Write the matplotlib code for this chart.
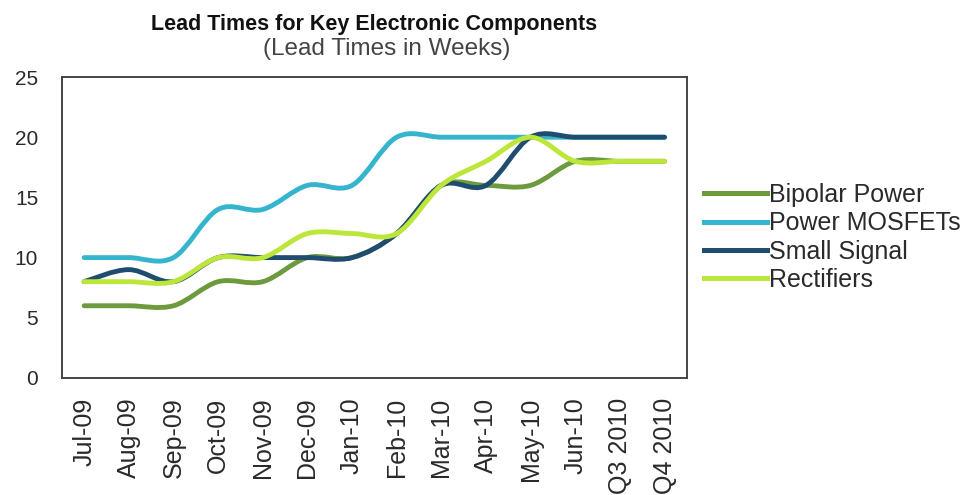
import matplotlib
matplotlib.use("Agg")
import matplotlib.pyplot as plt
import numpy as np
from matplotlib.path import Path
from matplotlib.patches import PathPatch
from matplotlib.lines import Line2D

categories = ["Jul-09", "Aug-09", "Sep-09", "Oct-09", "Nov-09", "Dec-09", "Jan-10",
              "Feb-10", "Mar-10", "Apr-10", "May-10", "Jun-10", "Q3 2010", "Q4 2010"]
bipolar_power = [6, 6, 6, 8, 8, 10, 10, 12, 16, 16, 16, 18, 18, 18]
power_mosfets = [10, 10, 10, 14, 14, 16, 16, 20, 20, 20, 20, 20, 20, 20]
small_signal = [8, 9, 8, 10, 10, 10, 10, 12, 16, 16, 20, 20, 20, 20]
rectifiers = [8, 8, 8, 10, 10, 12, 12, 12, 16, 18, 20, 18, 18, 18]

series_names = ["Bipolar Power", "Power MOSFETs", "Small Signal", "Rectifiers"]
colors = ["#6E9A3E", "#35B4CD", "#1E4D70", "#BDE63A"]

plt.rcParams['font.family'] = ['Liberation Sans', 'DejaVu Sans']

fig = plt.figure(figsize=(9.66, 4.95), dpi=100)
ax = fig.add_axes([0.064, 0.2364, 0.647, 0.608])


def smooth_path(xs, ys, t=1.0 / 6):
    pts = np.column_stack([xs, ys]).astype(float)
    n = len(pts)
    verts = [pts[0]]
    codes = [Path.MOVETO]
    for i in range(n - 1):
        p0 = pts[i - 1] if i > 0 else pts[i]
        p1 = pts[i]
        p2 = pts[i + 1]
        p3 = pts[i + 2] if i + 2 < n else pts[i + 1]
        c1 = p1 + (p2 - p0) * t
        c2 = p2 - (p3 - p1) * t
        verts += [c1, c2, p2]
        codes += [Path.CURVE4] * 3
    return Path(verts, codes)


x = np.arange(len(categories))
all_series = [bipolar_power, power_mosfets, small_signal, rectifiers]
handles = []
for name, vals, col in zip(series_names, all_series, colors):
    # invisible line so the data lives on the axes scales
    ax.plot(x, vals, color=col, alpha=0)
    patch = PathPatch(smooth_path(x, vals), facecolor="none", edgecolor=col,
                      lw=3.5, capstyle="round", joinstyle="round")
    ax.add_patch(patch)
    handles.append(Line2D([0], [0], color=col, lw=3.6))

ax.set_xlim(-0.5, len(categories) - 0.5)
ax.set_ylim(0, 25)
ax.set_yticks([0, 5, 10, 15, 20, 25])
ax.set_xticks(x)
ax.set_xticklabels(categories, rotation=90, fontsize=18, color="#2a2a2a")
ax.tick_params(axis="y", labelsize=15, colors="#2a2a2a", length=0, pad=17)
ax.tick_params(axis="x", length=0, pad=14)
for s in ax.spines.values():
    s.set_color("#444444")
    s.set_linewidth(1.4)

fig.text(0.3875, 1 - 30 / 495, "Lead Times for Key Electronic Components", ha="center",
         va="baseline", fontsize=15.5, fontweight="bold", color="#111111")
fig.text(0.4, 1 - 55 / 495, "(Lead Times in Weeks)", ha="center", va="baseline",
         fontsize=17.5, color="#444444")

leg = fig.legend(handles, series_names, loc="center left", bbox_to_anchor=(0.7285, 0.52),
                 frameon=False, fontsize=18, handlelength=2.55, handletextpad=0.05,
                 labelspacing=0.17, borderpad=0, borderaxespad=0)
for txt in leg.get_texts():
    txt.set_color("#2a2a2a")

fig.savefig("out.png", dpi=100)
